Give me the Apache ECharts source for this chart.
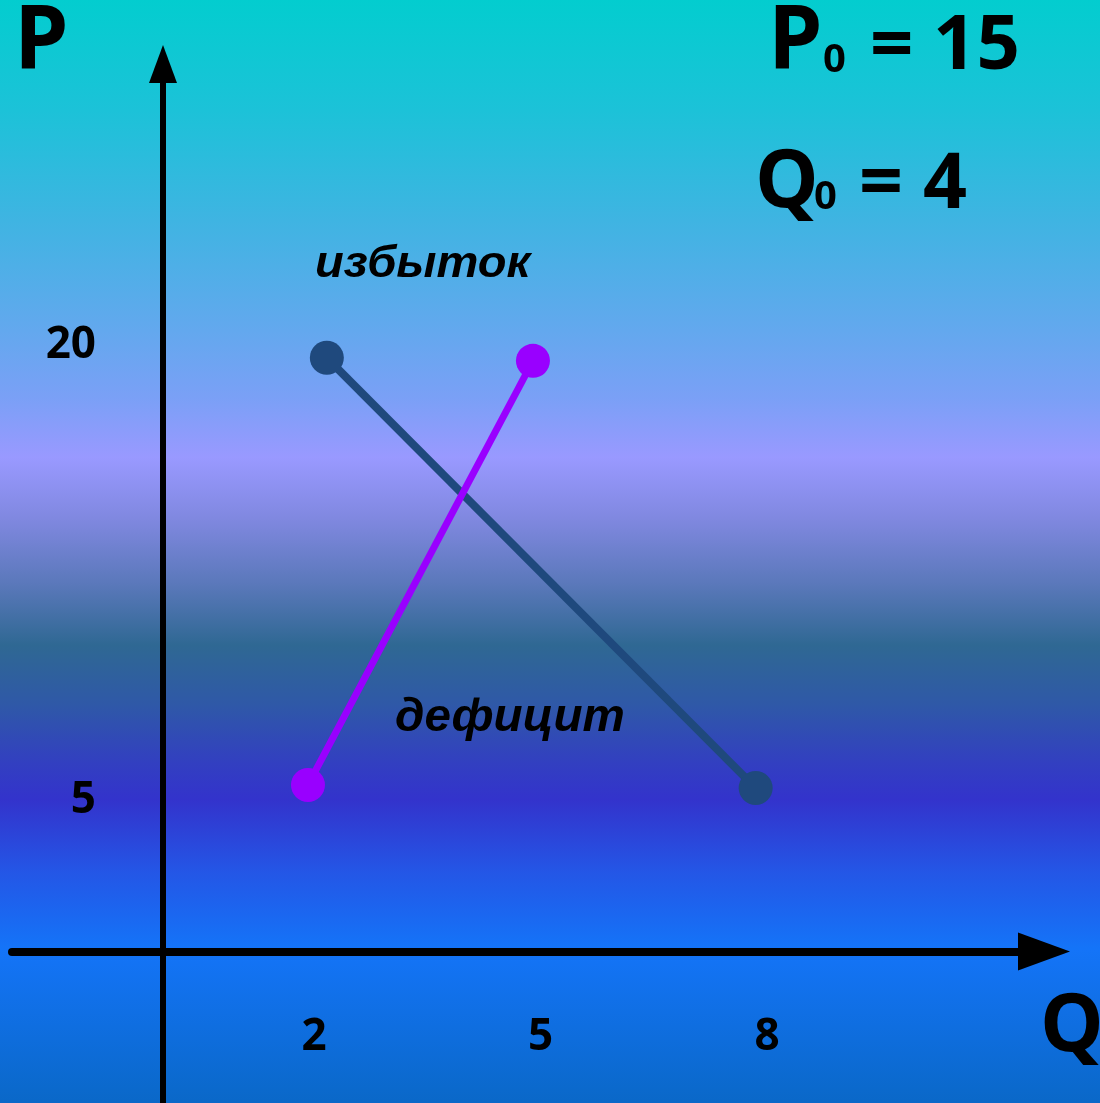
<!DOCTYPE html>
<html>
<head>
<meta charset="utf-8">
<script src="https://cdn.jsdelivr.net/npm/echarts@6/dist/echarts.min.js"></script>
<style>
html,body{margin:0;padding:0;width:1100px;height:1103px;overflow:hidden;}
#chart{width:1100px;height:1103px;}
</style>
</head>
<body>
<div id="chart"></div>
<script>
// ---- data ----
var demandQ = [2.17, 7.85];
var demandP = [19.6, 5.4];
var supplyQ = [1.92, 4.9];
var supplyP = [5.5, 19.5];
var qTickLabels = [2, 5, 8];
var pTickLabels = [5, 20];
var equilibriumTexts = ['P', '0', '= 15', 'Q', '0', '= 4'];
var areaLabels = ['избыток', 'дефицит'];
var axisNames = ['P', 'Q'];

function pairs(xs, ys){ return xs.map(function(x,i){ return [x, ys[i]]; }); }

var chart = echarts.init(document.getElementById('chart'));
var bigFont = '"Open Sans", "Noto Sans", sans-serif';
var itFont = '"Liberation Sans", Arial, sans-serif';

function txt(s, x, y, size, align, fam, style, sx){
  return {
    type: 'text', x: x, y: y, z: 100, scaleX: sx || 1,
    style: {
      text: s,
      font: (style || 'bold') + ' ' + size + 'px ' + (fam || bigFont),
      fill: '#000',
      align: align || 'left', textAlign: align || 'left',
      verticalAlign: 'middle', textVerticalAlign: 'middle'
    }
  };
}

var option = {
  backgroundColor: {
    type: 'linear', x: 0, y: 0, x2: 0, y2: 1,
    colorStops: [
      {offset: 0.00, color: '#03CDCF'},
      {offset: 0.10, color: '#1CC2D8'},
      {offset: 0.20, color: '#3FB4E2'},
      {offset: 0.30, color: '#63A8EE'},
      {offset: 0.36, color: '#7AA0F6'},
      {offset: 0.415, color: '#9999FF'},
      {offset: 0.47, color: '#8088E0'},
      {offset: 0.53, color: '#5A78BA'},
      {offset: 0.585, color: '#2F6893'},
      {offset: 0.64, color: '#2F58A8'},
      {offset: 0.69, color: '#3240C0'},
      {offset: 0.725, color: '#3333CC'},
      {offset: 0.79, color: '#2456E6'},
      {offset: 0.86, color: '#1474F8'},
      {offset: 1.00, color: '#0A68C8'}
    ]
  },
  animation: false,
  grid: {left: 12, right: 56, top: 64, bottom: 0, containLabel: false, outerBoundsMode: 'none'},
  xAxis: {
    type: 'value', min: -2, max: 11.669, interval: 1,
    splitLine: {show: false}, axisTick: {show: false},
    axisLine: {show: true, onZero: true, symbol: ['none', 'triangle'], symbolSize: [38, 52],
      lineStyle: {color: '#000', width: 8}},
    axisLabel: {
      show: true, margin: -66, verticalAlign: 'middle',
      color: '#000', fontSize: 44, fontWeight: 'bold', fontFamily: bigFont,
      showMinLabel: true, showMaxLabel: false,
      formatter: function(v){ return qTickLabels.indexOf(Math.round(v*1000)/1000) >= 0 ? String(v) : ''; }
    }
  },
  yAxis: {
    type: 'value', min: -5, max: 29.3, interval: 5,
    splitLine: {show: false}, axisTick: {show: false},
    axisLine: {show: true, onZero: true, symbol: ['none', 'triangle'], symbolSize: [28, 38],
      lineStyle: {color: '#000', width: 6}},
    axisLabel: {
      show: true, margin: -84, align: 'right', verticalAlign: 'middle',
      color: '#000', fontSize: 44, fontWeight: 'bold', fontFamily: bigFont,
      showMaxLabel: false,
      formatter: function(v){ return pTickLabels.indexOf(v) >= 0 ? String(v) : ''; }
    }
  },
  series: [
    {
      type: 'line', name: 'demand', data: pairs(demandQ, demandP),
      symbol: 'circle', symbolSize: 34, z: 3,
      lineStyle: {color: '#1F497D', width: 8},
      itemStyle: {color: '#1F497D'}
    },
    {
      type: 'line', name: 'supply', data: pairs(supplyQ, supplyP),
      symbol: 'circle', symbolSize: 34, z: 4,
      lineStyle: {color: '#9900FF', width: 7},
      itemStyle: {color: '#9900FF'}
    }
  ],
  graphic: [
    txt(axisNames[0], 14, 43, 87, 'left'),
    txt(axisNames[1], 1040, 1028, 80, 'left'),
    txt(equilibriumTexts[0], 768, 43, 87, 'left'),
    txt(equilibriumTexts[1], 823, 61, 40, 'left'),
    txt(equilibriumTexts[2], 1020, 47, 76, 'right'),
    txt(equilibriumTexts[3], 755, 184, 80, 'left'),
    txt(equilibriumTexts[4], 814, 198, 40, 'left'),
    txt(equilibriumTexts[5], 967, 186, 77, 'right'),
    txt(areaLabels[0], 315, 265, 44, 'left', itFont, 'italic bold', 1.07),
    txt(areaLabels[1], 395, 718, 46, 'left', itFont, 'italic bold', 1.035)
  ]
};
chart.setOption(option);
</script>
</body>
</html>
